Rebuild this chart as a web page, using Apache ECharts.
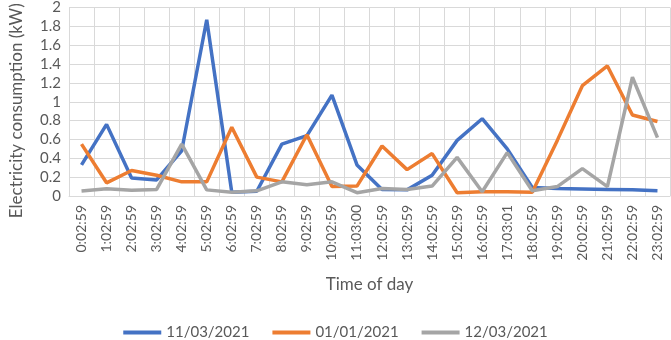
<!DOCTYPE html>
<html>
<head>
<meta charset="utf-8">
<script src="https://cdn.jsdelivr.net/npm/echarts@6/dist/echarts.min.js"></script>
<style>
  html, body { margin: 0; padding: 0; background: #fff; }
  #chart { width: 671px; height: 340px; }
</style>
</head>
<body>
<div id="chart"></div>
<script>
  // time of day categories
  var times = ['0:02:59', '1:02:59', '2:02:59', '3:02:59', '4:02:59', '5:02:59', '6:02:59', '7:02:59',
    '8:02:59', '9:02:59', '10:02:59', '11:03:00', '12:02:59', '13:02:59', '14:02:59', '15:02:59',
    '16:02:59', '17:03:01', '18:02:59', '19:02:59', '20:02:59', '21:02:59', '22:02:59', '23:02:59'];

  // kW readings per day
  var day1 = [0.33, 0.76, 0.19, 0.17, 0.48, 1.87, 0.04, 0.05, 0.55, 0.64, 1.07, 0.33,
    0.07, 0.065, 0.22, 0.59, 0.82, 0.50, 0.09, 0.08, 0.075, 0.07, 0.065, 0.055];
  var day2 = [0.55, 0.14, 0.27, 0.22, 0.15, 0.15, 0.73, 0.20, 0.15, 0.65, 0.10, 0.105,
    0.53, 0.28, 0.45, 0.035, 0.045, 0.045, 0.04, 0.59, 1.17, 1.38, 0.86, 0.79];
  var day3 = [0.053, 0.077, 0.06, 0.07, 0.55, 0.065, 0.04, 0.055, 0.15, 0.12, 0.15, 0.035,
    0.08, 0.07, 0.105, 0.41, 0.045, 0.46, 0.055, 0.1, 0.29, 0.1, 1.26, 0.62];

  var names = ['11/03/2021', '01/01/2021', '12/03/2021'];
  var colors = ['#4472C4', '#ED7D31', '#A5A5A5'];
  var font = 'Lato, "Liberation Sans", sans-serif';

  var chart = echarts.init(document.getElementById('chart'));

  var series = [day1, day2, day3].map(function (d, i) {
    return {
      name: names[i],
      type: 'line',
      data: d,
      symbol: 'none',
      lineStyle: { width: 3.5, color: colors[i] },
      itemStyle: { color: colors[i] }
    };
  });

  chart.setOption({
    animation: false,
    textStyle: { fontFamily: font },
    grid: { left: 59, right: 1, top: 6, bottom: 144 },
    legend: {
      top: 320,
      icon: 'rect',
      itemWidth: 38,
      itemHeight: 4,
      itemGap: 23,
      textStyle: { color: '#595959', fontSize: 15, fontFamily: font },
      data: names
    },
    xAxis: {
      type: 'category',
      data: times,
      boundaryGap: true,
      name: 'Time of day',
      nameLocation: 'middle',
      nameGap: 80,
      nameTextStyle: { color: '#595959', fontSize: 17, fontFamily: font },
      axisLine: { lineStyle: { color: '#d9d9d9' } },
      axisTick: { show: false },
      splitLine: { show: true, lineStyle: { color: '#d9d9d9' } },
      axisLabel: { rotate: 90, interval: 0, color: '#595959', fontSize: 14, margin: 9, fontFamily: font }
    },
    yAxis: {
      type: 'value',
      min: 0,
      max: 2,
      interval: 0.2,
      name: 'Electricity consumption (kW)',
      nameLocation: 'middle',
      nameGap: 44,
      nameTextStyle: { color: '#595959', fontSize: 17, fontFamily: font, padding: [0, 18, 0, 0] },
      axisLine: { show: false },
      axisTick: { show: false },
      splitLine: { lineStyle: { color: '#d9d9d9' } },
      axisLabel: { color: '#595959', fontSize: 15, margin: 8, fontFamily: font }
    },
    series: series
  });
</script>
</body>
</html>
